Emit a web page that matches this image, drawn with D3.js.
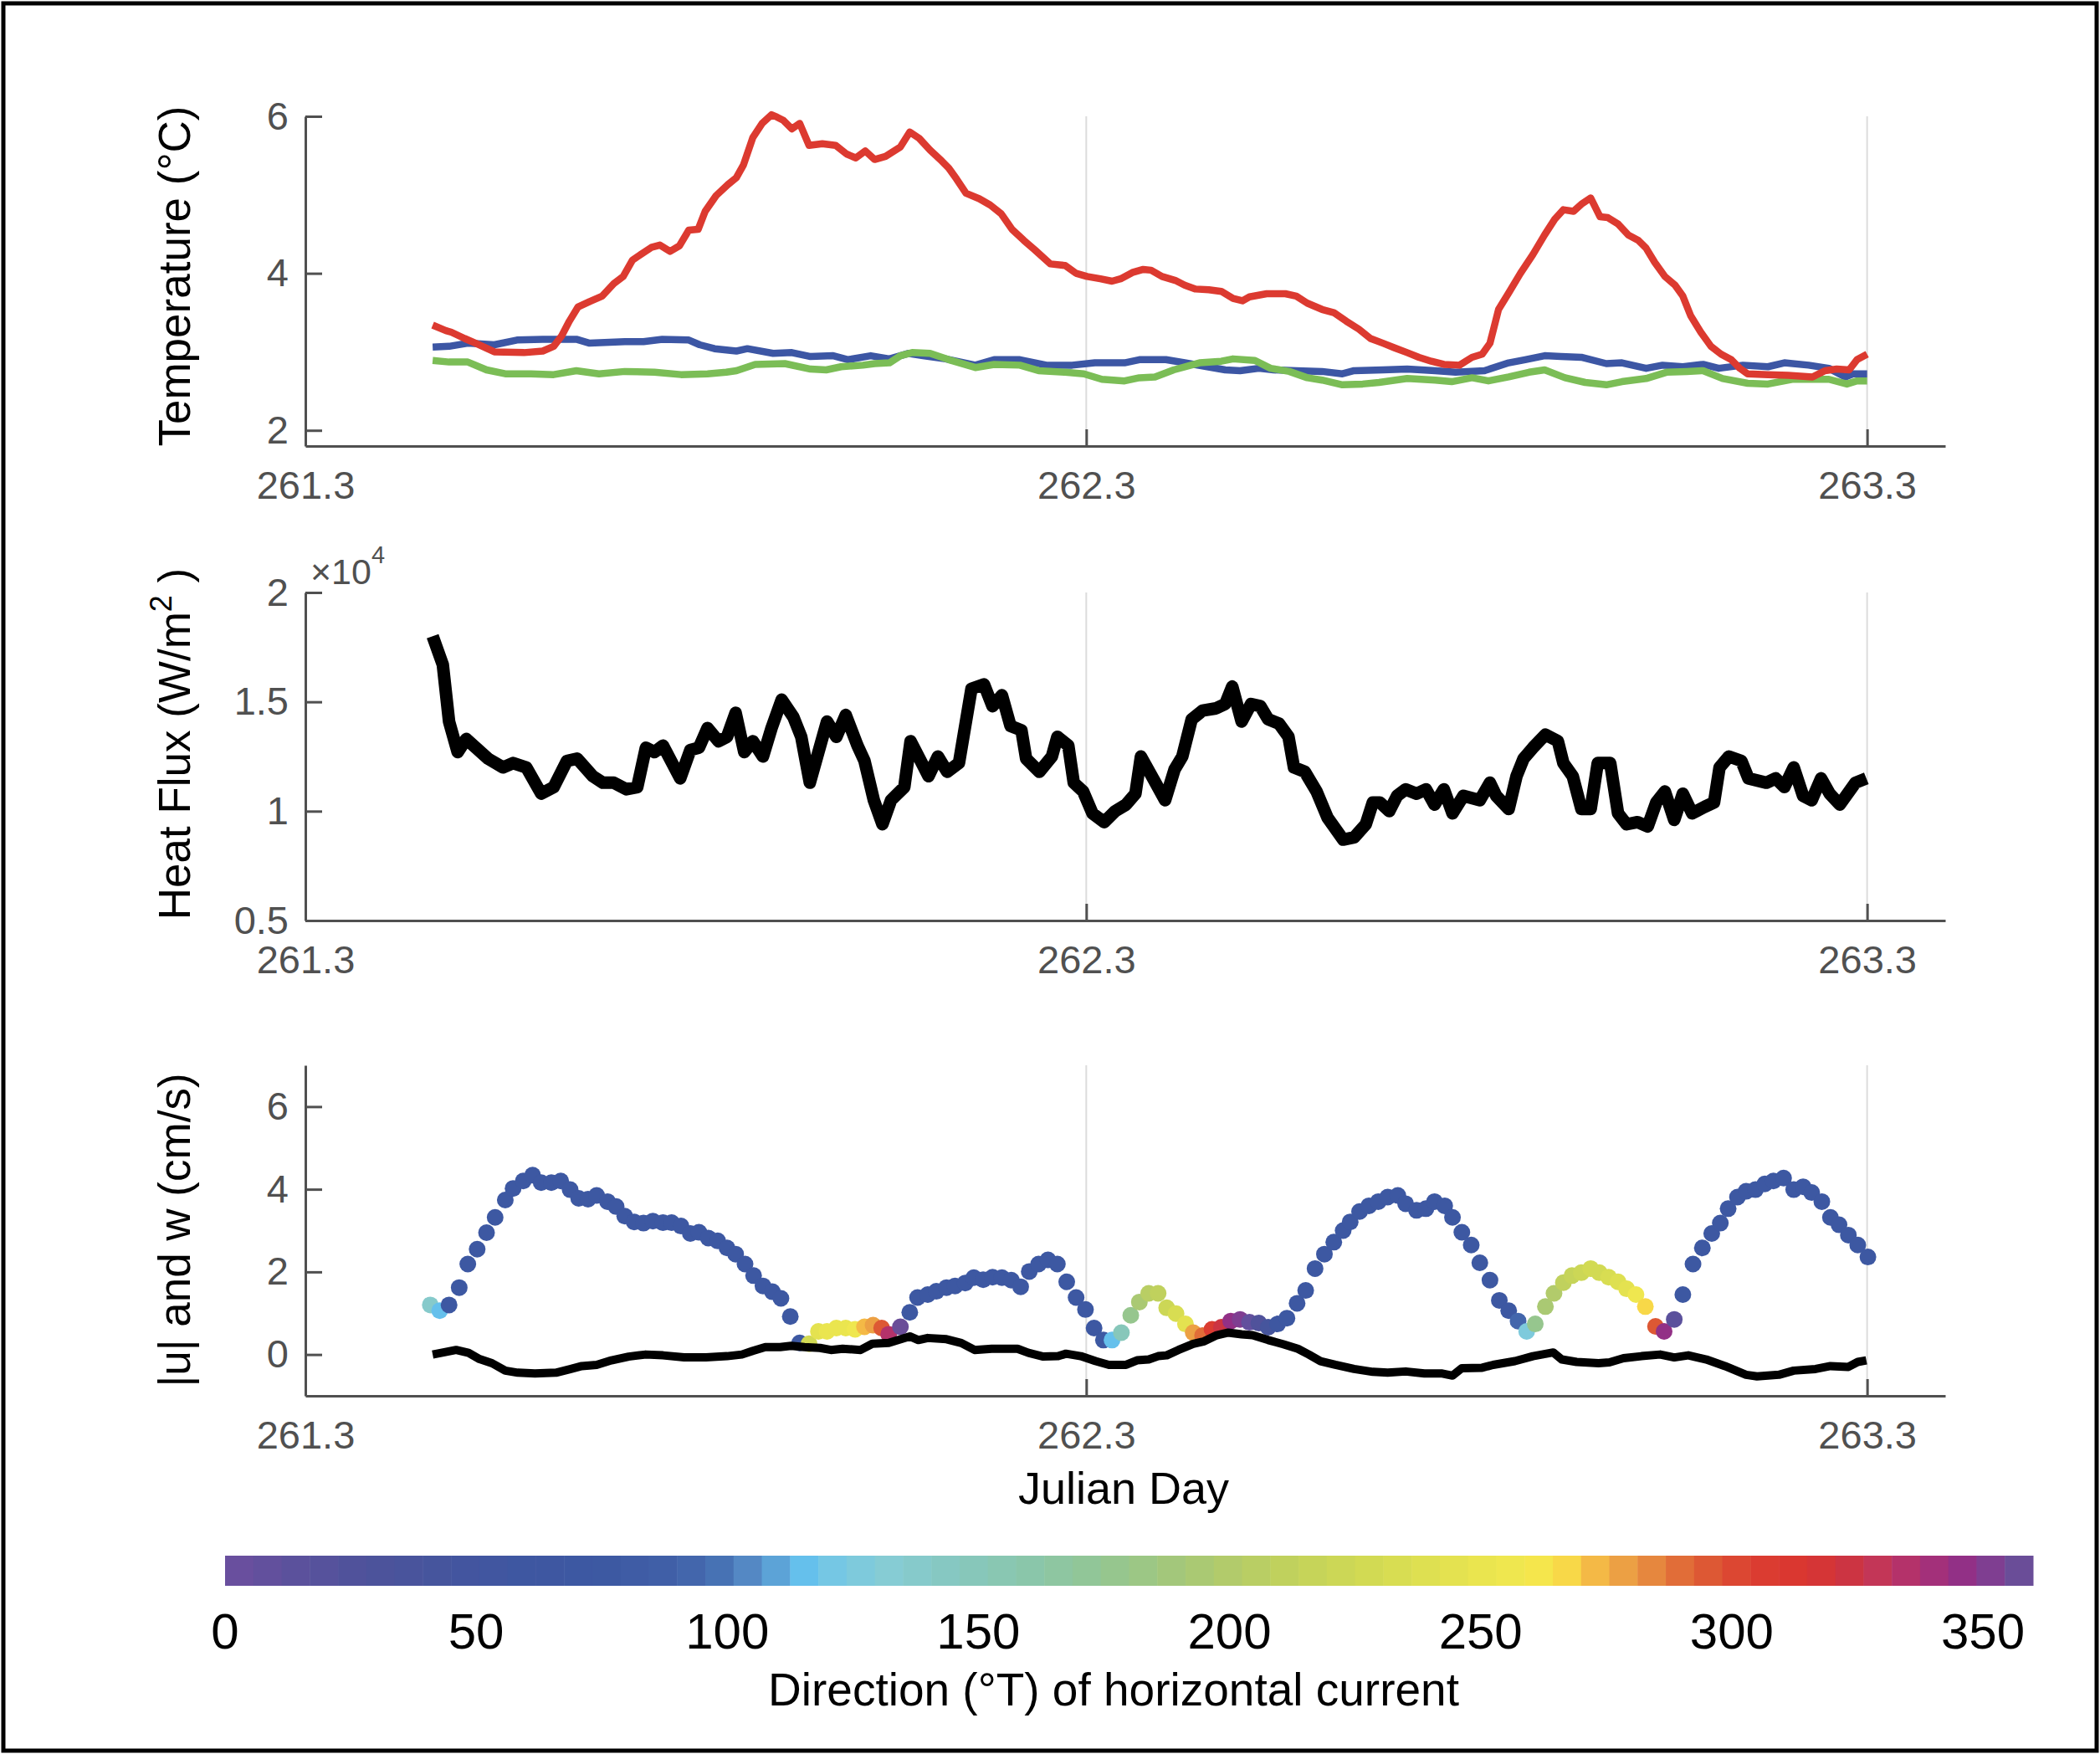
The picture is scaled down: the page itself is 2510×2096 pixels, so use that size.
<!DOCTYPE html>
<html><head><meta charset="utf-8">
<script src="https://cdn.jsdelivr.net/npm/d3@7"></script>
<style>body{margin:0;background:#fff}svg{display:block}</style>
</head><body>
<svg id="c" width="2510" height="2096"></svg>
<script>
// ---------- data ----------
const xTicks = [261.3, 262.3, 263.3];
const tempTicks = [2, 4, 6];
const fluxTicks = [0.5, 1, 1.5, 2];
const speedTicks = [0, 2, 4, 6];
const dirTicks = [0, 50, 100, 150, 200, 250, 300, 350];

const tempRed = [[261.463,3.34],[261.480,3.27],[261.487,3.25],[261.504,3.17],[261.518,3.11],[261.542,3.00],[261.580,2.99],[261.604,3.01],[261.618,3.07],[261.628,3.20],[261.638,3.39],[261.649,3.57],[261.664,3.64],[261.680,3.71],[261.695,3.87],[261.707,3.96],[261.719,4.17],[261.743,4.33],[261.754,4.36],[261.767,4.28],[261.779,4.35],[261.791,4.55],[261.803,4.56],[261.812,4.79],[261.826,4.99],[261.841,5.13],[261.852,5.22],[261.861,5.38],[261.873,5.73],[261.885,5.91],[261.897,6.02],[261.904,5.99],[261.912,5.95],[261.923,5.84],[261.933,5.91],[261.945,5.63],[261.962,5.65],[261.979,5.63],[261.993,5.52],[262.005,5.47],[262.017,5.56],[262.029,5.45],[262.043,5.49],[262.062,5.61],[262.074,5.80],[262.086,5.72],[262.100,5.57],[262.115,5.43],[262.124,5.34],[262.134,5.20],[262.146,5.02],[262.163,4.95],[262.177,4.87],[262.191,4.76],[262.205,4.56],[262.220,4.42],[262.234,4.30],[262.254,4.12],[262.273,4.10],[262.287,4.00],[262.301,3.96],[262.318,3.93],[262.333,3.90],[262.344,3.93],[262.359,4.01],[262.373,4.05],[262.383,4.04],[262.397,3.96],[262.414,3.91],[262.426,3.85],[262.440,3.80],[262.457,3.79],[262.473,3.77],[262.488,3.68],[262.500,3.65],[262.509,3.70],[262.531,3.74],[262.555,3.74],[262.569,3.71],[262.583,3.62],[262.602,3.54],[262.617,3.50],[262.633,3.39],[262.649,3.29],[262.664,3.17],[262.680,3.11],[262.695,3.05],[262.711,2.99],[262.726,2.93],[262.742,2.88],[262.758,2.84],[262.778,2.83],[262.794,2.93],[262.807,2.97],[262.817,3.11],[262.828,3.54],[262.841,3.75],[262.856,4.00],[262.872,4.24],[262.887,4.49],[262.900,4.69],[262.911,4.81],[262.924,4.79],[262.934,4.88],[262.946,4.96],[262.958,4.72],[262.968,4.71],[262.981,4.63],[262.994,4.49],[263.007,4.42],[263.017,4.32],[263.028,4.14],[263.041,3.96],[263.054,3.85],[263.064,3.71],[263.074,3.46],[263.087,3.25],[263.100,3.07],[263.113,2.97],[263.126,2.90],[263.137,2.79],[263.147,2.72],[263.173,2.71],[263.199,2.70],[263.230,2.68],[263.246,2.76],[263.261,2.78],[263.277,2.77],[263.287,2.90],[263.300,2.97]];

const tempBlue = [[261.463,3.06],[261.484,3.07],[261.508,3.11],[261.542,3.09],[261.571,3.15],[261.604,3.16],[261.647,3.16],[261.664,3.11],[261.709,3.13],[261.733,3.13],[261.757,3.16],[261.791,3.15],[261.805,3.09],[261.824,3.04],[261.852,3.01],[261.866,3.04],[261.899,2.98],[261.923,2.99],[261.947,2.94],[261.976,2.95],[261.995,2.90],[262.024,2.95],[262.048,2.91],[262.072,2.98],[262.091,2.95],[262.120,2.91],[262.158,2.83],[262.182,2.90],[262.215,2.90],[262.249,2.83],[262.282,2.83],[262.311,2.86],[262.349,2.86],[262.368,2.90],[262.402,2.90],[262.426,2.86],[262.455,2.81],[262.478,2.77],[262.497,2.76],[262.521,2.79],[262.540,2.77],[262.569,2.76],[262.602,2.75],[262.628,2.72],[262.643,2.76],[262.680,2.77],[262.711,2.78],[262.747,2.76],[262.773,2.74],[262.810,2.76],[262.841,2.86],[262.862,2.90],[262.887,2.95],[262.908,2.94],[262.934,2.93],[262.966,2.85],[262.986,2.86],[263.017,2.79],[263.038,2.83],[263.064,2.81],[263.090,2.84],[263.110,2.79],[263.141,2.83],[263.173,2.81],[263.194,2.86],[263.225,2.83],[263.251,2.79],[263.272,2.68],[263.282,2.72],[263.300,2.72]];

const tempGreen = [[261.463,2.89],[261.484,2.87],[261.508,2.87],[261.532,2.77],[261.556,2.72],[261.589,2.72],[261.618,2.71],[261.647,2.76],[261.676,2.72],[261.709,2.75],[261.747,2.74],[261.781,2.71],[261.815,2.72],[261.839,2.74],[261.852,2.76],[261.876,2.84],[261.914,2.85],[261.947,2.78],[261.967,2.77],[261.986,2.81],[262.014,2.83],[262.029,2.85],[262.048,2.86],[262.062,2.95],[262.077,2.99],[262.100,2.98],[262.124,2.90],[262.158,2.80],[262.182,2.84],[262.215,2.83],[262.239,2.76],[262.273,2.74],[262.297,2.72],[262.320,2.65],[262.349,2.63],[262.368,2.67],[262.388,2.68],[262.412,2.77],[262.445,2.86],[262.473,2.88],[262.488,2.91],[262.516,2.89],[262.536,2.79],[262.560,2.75],[262.583,2.67],[262.602,2.64],[262.628,2.58],[262.654,2.59],[262.675,2.61],[262.711,2.66],[262.747,2.64],[262.768,2.62],[262.794,2.67],[262.815,2.63],[262.841,2.68],[262.867,2.74],[262.887,2.77],[262.913,2.67],[262.939,2.61],[262.966,2.58],[262.986,2.62],[263.017,2.66],[263.043,2.74],[263.069,2.75],[263.090,2.76],[263.115,2.66],[263.147,2.60],[263.173,2.59],[263.204,2.65],[263.251,2.65],[263.274,2.59],[263.287,2.63],[263.300,2.63]];

// heat flux, units of 1e4 W/m^2
const heatFlux = [[261.463,1.80],[261.476,1.67],[261.484,1.41],[261.495,1.27],[261.506,1.33],[261.534,1.24],[261.553,1.20],[261.566,1.22],[261.583,1.20],[261.602,1.08],[261.618,1.11],[261.635,1.23],[261.648,1.24],[261.668,1.16],[261.681,1.13],[261.695,1.13],[261.711,1.10],[261.725,1.11],[261.736,1.29],[261.747,1.27],[261.758,1.30],[261.780,1.15],[261.793,1.28],[261.804,1.29],[261.815,1.38],[261.829,1.32],[261.840,1.34],[261.851,1.45],[261.862,1.27],[261.873,1.32],[261.886,1.25],[261.897,1.38],[261.910,1.51],[261.925,1.43],[261.935,1.34],[261.946,1.13],[261.968,1.41],[261.980,1.34],[261.992,1.44],[262.007,1.30],[262.016,1.23],[262.028,1.05],[262.039,0.94],[262.050,1.05],[262.067,1.11],[262.075,1.32],[262.088,1.23],[262.098,1.16],[262.110,1.25],[262.122,1.18],[262.137,1.22],[262.153,1.56],[262.169,1.58],[262.180,1.48],[262.192,1.53],[262.203,1.39],[262.217,1.37],[262.223,1.24],[262.240,1.18],[262.256,1.25],[262.263,1.34],[262.277,1.30],[262.284,1.13],[262.296,1.09],[262.308,0.99],[262.323,0.95],[262.337,1.00],[262.351,1.03],[262.363,1.08],[262.370,1.25],[262.387,1.14],[262.401,1.05],[262.413,1.19],[262.423,1.25],[262.435,1.42],[262.449,1.46],[262.466,1.47],[262.478,1.49],[262.487,1.57],[262.499,1.41],[262.511,1.49],[262.523,1.48],[262.533,1.42],[262.547,1.40],[262.559,1.34],[262.566,1.20],[262.580,1.18],[262.595,1.09],[262.609,0.97],[262.629,0.87],[262.643,0.88],[262.658,0.94],[262.667,1.04],[262.676,1.04],[262.688,1.00],[262.698,1.07],[262.709,1.10],[262.723,1.08],[262.735,1.10],[262.746,1.03],[262.758,1.10],[262.769,0.99],[262.783,1.07],[262.804,1.05],[262.817,1.13],[262.825,1.07],[262.841,1.01],[262.851,1.16],[262.860,1.24],[262.872,1.29],[262.888,1.35],[262.904,1.32],[262.911,1.22],[262.923,1.16],[262.934,1.01],[262.946,1.01],[262.955,1.22],[262.971,1.22],[262.981,0.99],[262.992,0.94],[263.006,0.95],[263.019,0.93],[263.030,1.04],[263.041,1.09],[263.053,0.96],[263.064,1.08],[263.076,0.99],[263.092,1.02],[263.104,1.04],[263.111,1.20],[263.123,1.25],[263.139,1.23],[263.148,1.15],[263.171,1.13],[263.183,1.15],[263.194,1.11],[263.206,1.20],[263.218,1.07],[263.229,1.05],[263.241,1.15],[263.252,1.08],[263.265,1.03],[263.285,1.13],[263.299,1.15]];

// horizontal speed |u| (cm/s) with direction (deg T): [day, speed, direction]
const currentU = [[261.460,1.20,135],[261.472,1.06,115],[261.484,1.20,70],[261.497,1.62,70],[261.508,2.19,70],[261.520,2.55,70],[261.532,2.95,70],[261.543,3.32,70],[261.556,3.74,70],[261.566,4.02,70],[261.579,4.20,70],[261.591,4.34,70],[261.602,4.16,70],[261.615,4.16,70],[261.627,4.20,70],[261.639,3.99,70],[261.650,3.78,70],[261.662,3.76,70],[261.673,3.85,70],[261.687,3.70,70],[261.698,3.58,70],[261.709,3.35,70],[261.721,3.21,70],[261.733,3.18,70],[261.745,3.23,70],[261.758,3.19,70],[261.769,3.19,70],[261.781,3.11,70],[261.793,2.93,70],[261.804,2.96,70],[261.816,2.82,70],[261.828,2.75,70],[261.840,2.58,70],[261.851,2.43,70],[261.863,2.19,70],[261.874,1.91,70],[261.886,1.66,70],[261.898,1.52,70],[261.909,1.36,70],[261.921,0.92,70],[261.933,0.28,70],[261.945,0.26,225],[261.957,0.56,245],[261.968,0.56,248],[261.980,0.64,252],[261.992,0.64,252],[262.004,0.61,256],[262.016,0.67,270],[262.027,0.71,280],[262.038,0.64,296],[262.047,0.49,335],[262.062,0.67,358],[262.074,1.02,70],[262.084,1.38,70],[262.097,1.45,70],[262.108,1.53,70],[262.121,1.62,70],[262.132,1.66,70],[262.145,1.73,70],[262.156,1.86,70],[262.168,1.81,70],[262.180,1.87,70],[262.192,1.86,70],[262.204,1.80,70],[262.216,1.64,70],[262.227,2.01,70],[262.239,2.19,70],[262.251,2.29,70],[262.263,2.19,70],[262.275,1.76,70],[262.287,1.38,70],[262.299,1.09,70],[262.310,0.64,70],[262.322,0.35,75],[262.333,0.35,115],[262.345,0.53,150],[262.357,0.95,178],[262.368,1.27,192],[262.380,1.48,205],[262.392,1.48,212],[262.403,1.13,222],[262.415,0.99,232],[262.427,0.74,245],[262.437,0.53,278],[262.449,0.46,290],[262.461,0.61,305],[262.473,0.66,325],[262.485,0.81,345],[262.497,0.85,350],[262.509,0.78,8],[262.521,0.76,25],[262.533,0.66,40],[262.545,0.74,60],[262.557,0.88,70],[262.570,1.24,70],[262.581,1.55,70],[262.593,2.08,70],[262.605,2.43,70],[262.617,2.72,70],[262.629,3.00,70],[262.638,3.21,70],[262.650,3.46,70],[262.662,3.60,70],[262.674,3.70,70],[262.686,3.81,70],[262.699,3.85,70],[262.709,3.65,70],[262.723,3.49,70],[262.735,3.53,70],[262.746,3.70,70],[262.759,3.60,70],[262.769,3.32,70],[262.781,2.96,70],[262.793,2.65,70],[262.804,2.22,70],[262.817,1.80,70],[262.829,1.31,70],[262.841,1.06,70],[262.853,0.81,95],[262.864,0.56,125],[262.875,0.74,175],[262.888,1.16,192],[262.899,1.48,200],[262.911,1.74,210],[262.922,1.91,215],[262.934,1.98,220],[262.946,2.08,225],[262.957,1.98,230],[262.969,1.87,235],[262.981,1.76,240],[262.992,1.59,245],[263.004,1.45,255],[263.016,1.16,265],[263.029,0.68,297],[263.040,0.56,345],[263.053,0.85,12],[263.064,1.45,70],[263.077,2.19,70],[263.089,2.58,70],[263.101,2.93,70],[263.112,3.18,70],[263.122,3.53,70],[263.134,3.81,70],[263.145,3.95,70],[263.157,3.99,70],[263.169,4.13,70],[263.180,4.20,70],[263.193,4.27,70],[263.206,3.99,70],[263.218,4.06,70],[263.229,3.92,70],[263.242,3.70,70],[263.253,3.32,70],[263.264,3.14,70],[263.276,2.89,70],[263.288,2.65,70],[263.301,2.36,70]];

// vertical velocity w (cm/s)
const currentW = [[261.463,0.00],[261.474,0.04],[261.493,0.11],[261.509,0.04],[261.523,-0.11],[261.539,-0.21],[261.556,-0.39],[261.572,-0.44],[261.594,-0.46],[261.621,-0.44],[261.640,-0.35],[261.654,-0.28],[261.673,-0.25],[261.692,-0.14],[261.714,-0.05],[261.736,0.00],[261.758,-0.02],[261.785,-0.07],[261.813,-0.07],[261.840,-0.04],[261.859,0.00],[261.873,0.09],[261.889,0.18],[261.908,0.18],[261.922,0.21],[261.939,0.18],[261.959,0.16],[261.973,0.11],[261.988,0.14],[262.011,0.11],[262.026,0.26],[262.047,0.28],[262.074,0.44],[262.085,0.35],[262.097,0.40],[262.121,0.37],[262.140,0.28],[262.157,0.11],[262.179,0.14],[262.212,0.14],[262.226,0.04],[262.245,-0.05],[262.264,-0.04],[262.274,0.02],[262.293,-0.04],[262.312,-0.16],[262.329,-0.25],[262.351,-0.25],[262.365,-0.14],[262.380,-0.12],[262.392,-0.04],[262.403,-0.02],[262.418,0.11],[262.437,0.26],[262.451,0.32],[262.466,0.46],[262.482,0.53],[262.499,0.49],[262.513,0.47],[262.533,0.35],[262.552,0.25],[262.571,0.14],[262.585,0.00],[262.600,-0.16],[262.619,-0.25],[262.643,-0.35],[262.667,-0.42],[262.686,-0.44],[262.709,-0.41],[262.733,-0.46],[262.756,-0.46],[262.769,-0.51],[262.781,-0.33],[262.807,-0.32],[262.821,-0.25],[262.849,-0.16],[262.872,-0.04],[262.898,0.05],[262.909,-0.12],[262.928,-0.18],[262.956,-0.21],[262.970,-0.19],[262.988,-0.09],[263.011,-0.04],[263.035,0.00],[263.053,-0.07],[263.071,-0.02],[263.094,-0.12],[263.118,-0.28],[263.145,-0.49],[263.159,-0.53],[263.187,-0.49],[263.206,-0.39],[263.234,-0.35],[263.253,-0.28],[263.276,-0.30],[263.288,-0.18],[263.299,-0.14]];

// colormap anchor colours (direction deg -> colour)
const cmapDeg = [0,15,30,45,60,75,90,98,104,110,115,122,132,145,160,175,188,200,212,225,240,252,260,266,272,278,284,290,296,304,314,322,330,338,346,352,360];
const cmapCol = ['#6c4f9f','#5a519c','#4c539b','#44559e','#3e57a1','#3d58a2','#4161a8','#4670b3','#5488c4','#5ca4d8','#64c0ec','#78c8e2','#86ccd4','#86c8bf','#8ac6ab','#93c692','#a2c77c','#b2cb6b','#c1d25c','#cfd854','#dfe051','#ece64f','#f3e94e','#f9df48','#f5bd46','#eca244','#e6873e','#e16c38','#dd5534','#db3e31','#da3530','#cf343d','#c1365a','#aa3075','#923086','#7e3f92','#5f549c'];
const nLevels = 64;

// ---------- drawing ----------
const W = 2510, H = 2096;
const svg = d3.select('#c');
svg.append('rect').attr('width', W).attr('height', H).attr('fill', '#fff');
svg.append('rect').attr('x', 4).attr('y', 4).attr('width', W - 8).attr('height', H - 8)
   .attr('fill', 'none').attr('stroke', '#000').attr('stroke-width', 5);

const L = 365, R = 2325;
const AX = '#505050';
const FONT = "'Liberation Sans', Arial, Helvetica, sans-serif";
const x = d3.scaleLinear().domain([261.3, 263.4]).range([L, R]);

function panel(top, bottom, domain, ticks, fmt) {
  const y = d3.scaleLinear().domain(domain).range([bottom, top]);
  const g = svg.append('g');
  g.selectAll('line.grid').data(xTicks.slice(1)).join('line')
    .attr('x1', d => x(d)).attr('x2', d => x(d)).attr('y1', top).attr('y2', bottom)
    .attr('stroke', '#dcdcdc').attr('stroke-width', 2);
  const ax = g.append('g').attr('transform', `translate(0,${bottom})`)
    .call(d3.axisBottom(x).tickValues(xTicks).tickFormat(d3.format('.1f'))
      .tickSizeInner(-20).tickSizeOuter(0).tickPadding(30));
  const ay = g.append('g').attr('transform', `translate(${L},0)`)
    .call(d3.axisLeft(y).tickValues(ticks).tickFormat(fmt)
      .tickSizeInner(-20).tickSizeOuter(0).tickPadding(20));
  [ax, ay].forEach(a => {
    a.select('.domain').attr('stroke', AX).attr('stroke-width', 3);
    a.selectAll('.tick line').attr('stroke', AX).attr('stroke-width', 3);
    a.selectAll('.tick text').attr('fill', AX).style('font-family', FONT).style('font-size', '47px');
  });
  return {g, y};
}

function yLabel(cx, cy, parts) {
  const t = svg.append('text').attr('transform', `translate(${cx},${cy}) rotate(-90)`)
    .attr('text-anchor', 'middle').style('font-family', FONT).style('font-size', '53px').attr('fill', '#000');
  parts.forEach(p => {
    const s = t.append('tspan').text(p.t);
    if (p.sup) s.attr('baseline-shift', '60%').style('font-size', '36px');
  });
}

// Panel 1: temperature
const p1 = panel(139, 533, [1.8, 6], tempTicks, d3.format('d'));
const line1 = d3.line().x(d => x(d[0])).y(d => p1.y(d[1]));
[[tempBlue, '#3c56a4'], [tempGreen, '#7bbd56'], [tempRed, '#dc3a30']].forEach(([s, c]) => {
  p1.g.append('path').datum(s).attr('d', line1).attr('fill', 'none')
    .attr('stroke', c).attr('stroke-width', 8.5).attr('stroke-linejoin', 'round');
});
yLabel(227, 330, [{t: 'Temperature (°C)'}]);

// Panel 2: heat flux
const p2 = panel(708, 1100, [0.5, 2], fluxTicks, d => d3.format('')(d));
const line2 = d3.line().x(d => x(d[0])).y(d => p2.y(d[1]));
p2.g.append('path').datum(heatFlux).attr('d', line2).attr('fill', 'none')
  .attr('stroke', '#000').attr('stroke-width', 15).attr('stroke-linejoin', 'round');
yLabel(227, 889, [{t: 'Heat Flux (W/m'}, {t: '2', sup: true}, {t: ' )'}]);
const ex = svg.append('text').attr('x', 371).attr('y', 698).attr('fill', AX)
  .style('font-family', FONT).style('font-size', '43px');
ex.append('tspan').text('×10');
ex.append('tspan').text('4').attr('dy', -25).style('font-size', '29px');

// Panel 3: |u| and w
const p3 = panel(1273, 1668, [-1, 7], speedTicks, d3.format('d'));
const cmapCont = d3.scaleLinear().domain(cmapDeg).range(cmapCol).interpolate(d3.interpolateRgb);
const binColors = d3.range(nLevels).map(i => cmapCont((i + 0.5) * 360 / nLevels));
const dirColor = d3.scaleQuantize().domain([0, 360]).range(binColors);
p3.g.selectAll('circle.u').data(currentU).join('circle')
  .attr('cx', d => x(d[0])).attr('cy', d => p3.y(d[1])).attr('r', 10)
  .attr('fill', d => dirColor(d[2]));
const line3 = d3.line().x(d => x(d[0])).y(d => p3.y(d[1]));
p3.g.append('path').datum(currentW).attr('d', line3).attr('fill', 'none')
  .attr('stroke', '#000').attr('stroke-width', 10).attr('stroke-linejoin', 'round');
yLabel(227, 1470, [{t: '|u| and w (cm/s)'}]);

svg.append('text').attr('x', 1343).attr('y', 1797).attr('text-anchor', 'middle')
  .style('font-family', FONT).style('font-size', '54px').attr('fill', '#000').text('Julian Day');

// Colour bar
const cx = d3.scaleLinear().domain([0, 360]).range([269, 2430]);
const cb = svg.append('g');
cb.selectAll('rect').data(binColors).join('rect')
  .attr('x', (d, i) => cx(i * 360 / nLevels)).attr('y', 1859)
  .attr('width', (d, i) => cx((i + 1) * 360 / nLevels) - cx(i * 360 / nLevels) + 0.5)
  .attr('height', 36).attr('fill', d => d);
cb.selectAll('text').data(dirTicks).join('text')
  .attr('x', d => cx(d)).attr('y', 1970).attr('text-anchor', 'middle')
  .style('font-family', FONT).style('font-size', '60px').attr('fill', '#000').text(d => d);
svg.append('text').attr('x', 1331).attr('y', 2038).attr('text-anchor', 'middle')
  .style('font-family', FONT).style('font-size', '55px').attr('fill', '#000')
  .text('Direction (°T) of horizontal current');
</script>
</body></html>
